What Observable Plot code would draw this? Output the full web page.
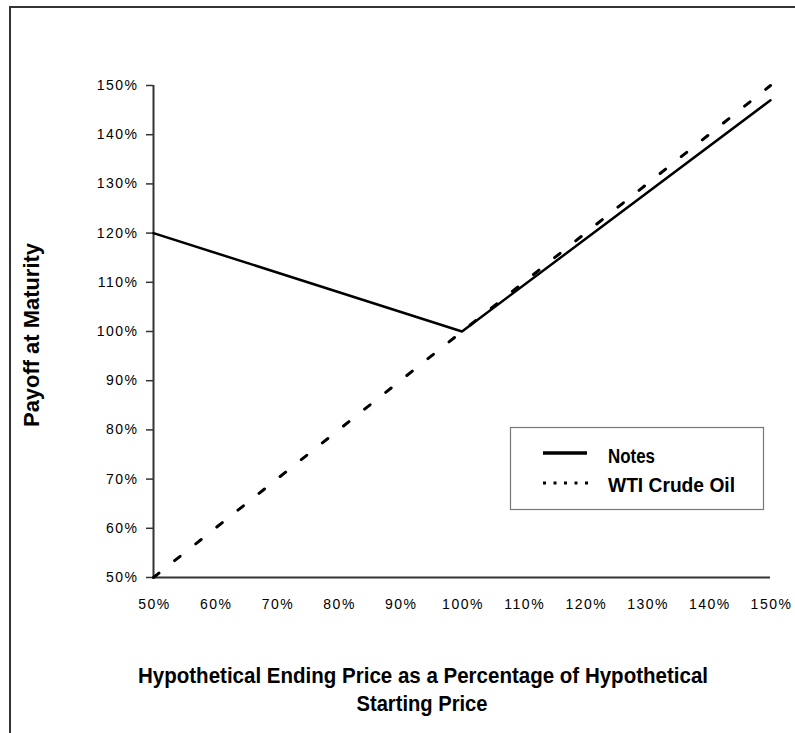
<!DOCTYPE html>
<html>
<head>
<meta charset="utf-8">
<script src="https://cdn.jsdelivr.net/npm/d3@7"></script>
<script src="https://cdn.jsdelivr.net/npm/@observablehq/plot@0.6"></script>
<style>
  html, body { margin: 0; padding: 0; background: #fff; }
  #wrap { position: relative; width: 795px; height: 733px; overflow: hidden; }
  #frame { position: absolute; left: 9px; top: 6px; width: 800px; height: 800px;
           border-left: 2px solid #333; border-top: 2px solid #333; box-sizing: border-box; }
  #chart { position: absolute; left: 0; top: 0; }
  #chart svg g[aria-label="x-axis tick label"] text,
  #chart svg g[aria-label="y-axis tick label"] text { letter-spacing: 1.5px; font-size: 14px; }
  #overlay { position: absolute; left: 0; top: 0; }
  #overlay text { font-family: "Liberation Sans", Arial, sans-serif; font-weight: bold; fill: #000; }
</style>
</head>
<body>
<div id="wrap">
  <div id="chart"></div>
  <div id="frame"></div>
  <svg id="overlay" width="795" height="733">
    <text x="39" y="335" font-size="22" text-anchor="middle" textLength="184" lengthAdjust="spacingAndGlyphs"
          transform="rotate(-90 39 335)">Payoff at Maturity</text>
    <text x="423" y="683" font-size="22" text-anchor="middle" textLength="570" lengthAdjust="spacingAndGlyphs">Hypothetical Ending Price as a Percentage of Hypothetical</text>
    <text x="422" y="711" font-size="22" text-anchor="middle" textLength="131" lengthAdjust="spacingAndGlyphs">Starting Price</text>
    <rect x="510.5" y="427.5" width="253" height="82" fill="#fff" stroke="#777" stroke-width="1.2"></rect>
    <line x1="543" x2="587" y1="453" y2="453" stroke="#000" stroke-width="3.5"></line>
    <line x1="543" x2="590" y1="483" y2="483" stroke="#000" stroke-width="3" stroke-dasharray="3,7.5"></line>
    <text x="608" y="463" font-size="20" textLength="47" lengthAdjust="spacingAndGlyphs">Notes</text>
    <text x="608" y="492" font-size="20" textLength="127" lengthAdjust="spacingAndGlyphs">WTI Crude Oil</text>
  </svg>
</div>
<script>
const xTicks = [50, 60, 70, 80, 90, 100, 110, 120, 130, 140, 150];
const yTicks = [50, 60, 70, 80, 90, 100, 110, 120, 130, 140, 150];
const notesX = [50, 100, 150];
const notesY = [120, 100, 147];
const oilX = [50, 100, 150];
const oilY = [50, 100, 150];

const notes = notesX.map((x, i) => ({x, y: notesY[i]}));
const oil = oilX.map((x, i) => ({x, y: oilY[i]}));

const chart = Plot.plot({
  width: 795,
  height: 733,
  marginLeft: 153,
  marginRight: 25,
  marginTop: 85,
  marginBottom: 156,
  style: { fontFamily: "Liberation Sans, Arial, sans-serif", fontSize: "14px", color: "#000", background: "transparent", overflow: "visible" },
  x: { domain: [50, 150], label: null },
  y: { domain: [50, 150], label: null },
  marks: [
    Plot.axisX({ticks: xTicks, tickFormat: d => d + "%", tickSize: 0, tickPadding: 22, label: null, dx: 1}),
    Plot.axisY({ticks: yTicks, tickFormat: d => d + "%", tickSize: 7, tickPadding: 8, label: null, stroke: "#333", strokeWidth: 1.5}),
    Plot.ruleX([50], {stroke: "#333", strokeWidth: 2}),
    Plot.ruleY([50], {stroke: "#333", strokeWidth: 2}),
    Plot.line(oil, {x: "x", y: "y", stroke: "#000", strokeWidth: 3, strokeDasharray: "7,20"}),
    Plot.line(notes, {x: "x", y: "y", stroke: "#000", strokeWidth: 2.5})
  ]
});
document.getElementById("chart").appendChild(chart);
</script>
</body>
</html>
